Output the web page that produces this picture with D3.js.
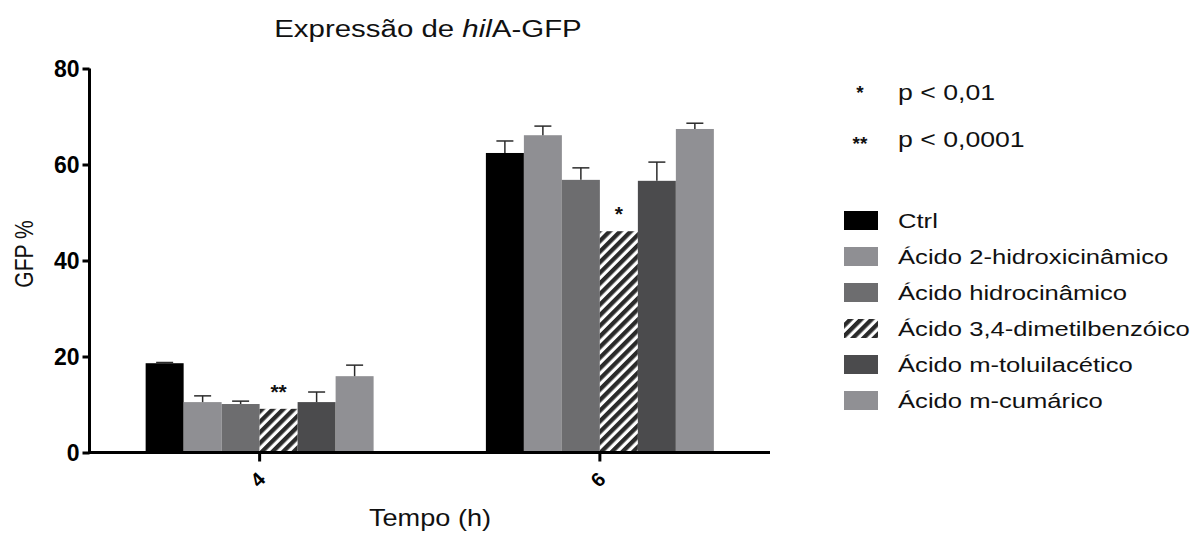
<!DOCTYPE html>
<html>
<head>
<meta charset="utf-8">
<script src="https://cdn.jsdelivr.net/npm/d3@7"></script>
<style>
  html, body { margin: 0; padding: 0; background: #fff; }
  svg { display: block; font-family: "Liberation Sans", Arial, sans-serif; }
</style>
</head>
<body>
<svg id="chart" width="1201" height="534"></svg>
<script>
// Time points (h)
const timepoints = ["4", "6"];
// Treatments
const treatments = [
  "Ctrl",
  "Ácido 2-hidroxicinâmico",
  "Ácido hidrocinâmico",
  "Ácido 3,4-dimetilbenzóico",
  "Ácido m-toluilacético",
  "Ácido m-cumárico"
];
// Mean GFP % per treatment, one array per time point
const mean4h = [18.6, 10.5, 10.1, 9.1, 10.5, 15.9];
const mean6h = [62.4, 66.1, 56.8, 46.1, 56.6, 67.4];
// Error (upper bar only)
const err4h = [0.15, 1.3, 0.6, 0, 2.1, 2.3];
const err6h = [2.5, 1.9, 2.5, 0, 3.9, 1.2];
// Significance marks over bars
const sig4h = ["", "", "", "**", "", ""];
const sig6h = ["", "", "", "*", "", ""];
// Y axis ticks
const yTicks = [0, 20, 40, 60, 80];
// Significance legend
const sigKeys = ["*", "**"];
const sigLabels = ["p < 0,01", "p < 0,0001"];

const fills = ["#000000", "#8f8f93", "#6d6d6f", "url(#hatch)", "#4b4b4d", "#909094"];
const SX = 1.28; // horizontal widening applied to regular-weight labels

const rows = [];
timepoints.forEach((t, gi) => {
  const m = gi === 0 ? mean4h : mean6h;
  const e = gi === 0 ? err4h : err6h;
  const s = gi === 0 ? sig4h : sig6h;
  treatments.forEach((tr, i) => rows.push({ t, tr, i, value: m[i], err: e[i], sig: s[i] }));
});

const svg = d3.select("#chart");

// diagonal stripe pattern
const defs = svg.append("defs");
const pat = defs.append("pattern")
  .attr("id", "hatch")
  .attr("patternUnits", "userSpaceOnUse")
  .attr("width", 7.5).attr("height", 7.5)
  .attr("patternTransform", "rotate(45)");
pat.append("rect").attr("width", 7.5).attr("height", 7.5).attr("fill", "#ffffff");
pat.append("rect").attr("width", 4.3).attr("height", 7.5).attr("fill", "#2a2a2a");

const axisLeftX = 89.5, axisRightX = 770;
const y0 = 452.5, yTop = 68.5;

const x = d3.scaleBand().domain(timepoints).range([axisLeftX, axisRightX])
  .paddingInner(0.33).paddingOuter(0.165);
const xi = d3.scaleBand().domain(d3.range(treatments.length)).range([0, x.bandwidth()]);
const y = d3.scaleLinear().domain([0, 80]).range([y0, yTop]);

// Bars
const g = svg.append("g");
g.selectAll("rect.bar").data(rows).join("rect")
  .attr("class", "bar")
  .attr("x", d => x(d.t) + xi(d.i))
  .attr("y", d => y(d.value))
  .attr("width", xi.bandwidth())
  .attr("height", d => y(0) - y(d.value))
  .attr("fill", d => fills[d.i]);

// Error bars (upper)
const eb = rows.filter(d => d.err > 0);
const cx = d => x(d.t) + xi(d.i) + xi.bandwidth() / 2;
g.selectAll("line.err").data(eb).join("line")
  .attr("x1", cx).attr("x2", cx)
  .attr("y1", d => y(d.value))
  .attr("y2", d => y(d.value + d.err))
  .attr("stroke", "#2b2b2b").attr("stroke-width", 1.5);
g.selectAll("line.cap").data(eb).join("line")
  .attr("x1", d => cx(d) - 8.5)
  .attr("x2", d => cx(d) + 8.5)
  .attr("y1", d => y(d.value + d.err))
  .attr("y2", d => y(d.value + d.err))
  .attr("stroke", "#2b2b2b").attr("stroke-width", 1.5);

// Significance marks
g.selectAll("text.sig").data(rows.filter(d => d.sig)).join("text")
  .attr("x", cx)
  .attr("y", d => y(d.value + d.err) - 10)
  .attr("text-anchor", "middle")
  .attr("font-size", 21).attr("font-weight", "bold")
  .attr("fill", "#111")
  .text(d => d.sig);

// Y axis
const yAxis = svg.append("g")
  .attr("transform", `translate(${axisLeftX},0)`)
  .call(d3.axisLeft(y).tickValues(yTicks).tickSize(7).tickPadding(3));
yAxis.select(".domain").attr("stroke", "#000").attr("stroke-width", 3)
  .attr("d", `M0,${yTop}V${y0 + 1.5}`);
yAxis.selectAll(".tick line").attr("stroke", "#000").attr("stroke-width", 3);
yAxis.selectAll(".tick text")
  .attr("font-family", "Liberation Sans, Arial, sans-serif")
  .attr("font-size", 23).attr("font-weight", "bold").attr("fill", "#000")
  .attr("dy", "0.36em");

// X axis
const xAxis = svg.append("g")
  .attr("transform", `translate(0,${y0})`)
  .call(d3.axisBottom(x).tickSize(9).tickPadding(4));
xAxis.select(".domain").attr("stroke", "#000").attr("stroke-width", 3)
  .attr("d", `M${axisLeftX - 1.5},0H${axisRightX}`);
xAxis.selectAll(".tick line").attr("stroke", "#000").attr("stroke-width", 3);
xAxis.selectAll(".tick text")
  .attr("font-family", "Liberation Sans, Arial, sans-serif")
  .attr("font-size", 20).attr("font-weight", "bold").attr("fill", "#000")
  .attr("text-anchor", "middle")
  .attr("dy", null)
  .attr("y", 0)
  .attr("transform", "translate(-2,27) rotate(-45)")
  .attr("dominant-baseline", "central");

// Axis titles
svg.append("text")
  .attr("transform", `translate(33,254) scale(1.2,1) rotate(-90)`)
  .attr("text-anchor", "middle")
  .attr("font-size", 21).attr("fill", "#111")
  .text("GFP %");
svg.append("text")
  .attr("transform", `translate(430,526) scale(1.18,1)`)
  .attr("text-anchor", "middle")
  .attr("font-size", 23).attr("fill", "#111")
  .text("Tempo (h)");

// Title
const title = svg.append("text")
  .attr("transform", `translate(428,37) scale(${SX},1)`)
  .attr("text-anchor", "middle")
  .attr("font-size", 23).attr("fill", "#111");
title.append("tspan").text("Expressão de ");
title.append("tspan").attr("font-style", "italic").text("hil");
title.append("tspan").text("A-GFP");

// Significance legend
const sl = svg.append("g");
sigKeys.forEach((k, i) => {
  const base = 100 + i * 47;
  sl.append("text").attr("x", 860).attr("y", base - 1 + i * 4)
    .attr("text-anchor", "middle").attr("font-size", 19).attr("font-weight", "bold")
    .attr("fill", "#111").text(k);
  sl.append("text")
    .attr("transform", `translate(898,${base}) scale(1.24,1)`)
    .attr("font-size", 21.5).attr("fill", "#111").text(sigLabels[i]);
});

// Treatment legend
const lg = svg.append("g");
treatments.forEach((tr, i) => {
  const cy = 220.5 + i * 36;
  lg.append("rect").attr("x", 844).attr("y", cy - 9.5)
    .attr("width", 34).attr("height", 19).attr("fill", fills[i]);
  lg.append("text")
    .attr("transform", `translate(898,${cy + 7.5}) scale(1.22,1)`)
    .attr("font-size", 21).attr("fill", "#111").text(tr);
});
</script>
</body>
</html>
